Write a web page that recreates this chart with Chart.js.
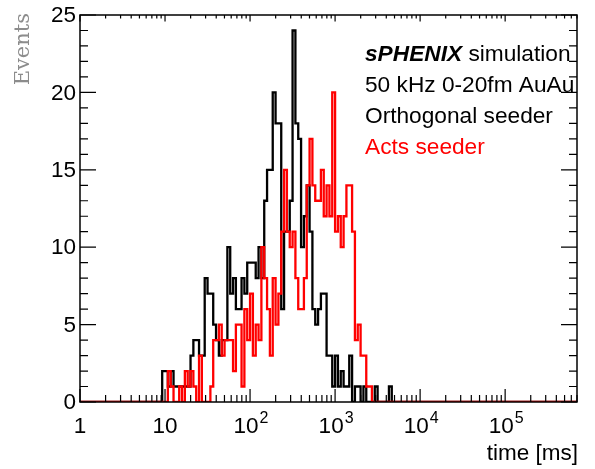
<!DOCTYPE html>
<html><head><meta charset="utf-8">
<script src="https://cdn.jsdelivr.net/npm/chart.js@4/dist/chart.umd.min.js"></script>
<style>html,body{margin:0;padding:0;background:#fff;}#wrap{width:595px;height:469px;}</style>
</head><body><div id="wrap"><canvas id="c" width="595" height="469"></canvas></div>
<script>
// Histogram binning: log-spaced bins, 30 per decade; first listed bin index
const binsPerDecade = 30;
const firstBin = 29;
// Orthogonal seeder (black) counts per bin, starting at bin index 29
const orthogonalCounts = [2,2,1,2,1,1,1,1,1,1,3,4,4,3,3,8,7,7,5,4,3,4,4,10,7,8,6,6,8,7,9,9,9,8,10,8,13,15,15,20,18,18,6,11,11,13,24,18,17,10,12,14,11,6,5,6,7,7,3,3,1,3,1,2,1,1,3,0,1,1,0,1,0,0,0,1,0,0,0,0,1,0];
// Acts seeder (red) counts per bin, starting at bin index 29
const actsCounts = [0,0,2,1,0,0,1,0,2,1,2,1,0,3,0,0,0,1,4,4,5,3,4,4,4,2,5,5,1,6,4,7,3,5,4,10,8,6,3,8,5,7,11,15,11,10,11,8,6,6,8,14,17,14,13,13,15,12,14,12,20,11,12,10,12,14,14,11,4,5,3,3,1,1,0,0,0,0,0,0,0,0];
const xRange = [1, 7e5];
const yRange = [0, 25];
const yTickLabels = ['0','5','10','15','20','25'];
const xTickDecades = [0,1,2,3,4,5];
const seriesNames = ['Orthogonal seeder', 'Acts seeder'];
const seriesColors = ['#000000', '#ff0000'];

function histPoints(counts) {
  const pts = [{x: xRange[0], y: 0}];
  counts.forEach((c, k) => pts.push({x: Math.pow(10, (firstBin + k) / binsPerDecade), y: c}));
  pts.push({x: Math.pow(10, (firstBin + counts.length) / binsPerDecade), y: 0});
  pts.push({x: xRange[1], y: 0});
  return pts;
}

const FONT = '"Liberation Sans", Arial, sans-serif';

const rootFrame = {
  id: 'rootFrame',
  afterDatasetsDraw(chart) {
    const ctx = chart.ctx, a = chart.chartArea;
    const xs = chart.scales.x, ys = chart.scales.y;
    ctx.save();
    ctx.strokeStyle = '#000';
    ctx.lineWidth = 1.5;
    ctx.strokeRect(a.left, a.top, a.right - a.left, a.bottom - a.top);
    ctx.lineWidth = 1.2;
    ctx.beginPath();
    for (let d = 0; d <= 6; d++) {
      for (let m = 1; m <= 9; m++) {
        const v = m * Math.pow(10, d);
        if (v < xRange[0] || v > xRange[1]) continue;
        const px = xs.getPixelForValue(v);
        const len = m === 1 ? 13 : 7;
        ctx.moveTo(px, a.bottom); ctx.lineTo(px, a.bottom - len);
        ctx.moveTo(px, a.top); ctx.lineTo(px, a.top + len * 0.5);
      }
    }
    for (let v = yRange[0]; v <= yRange[1]; v++) {
      const py = ys.getPixelForValue(v);
      const len = v % 5 === 0 ? 16 : 8;
      ctx.moveTo(a.left, py); ctx.lineTo(a.left + len, py);
      ctx.moveTo(a.right, py); ctx.lineTo(a.right - len, py);
    }
    ctx.stroke();

    ctx.fillStyle = '#000';
    ctx.font = '22.5px ' + FONT;
    ctx.textAlign = 'right';
    ctx.textBaseline = 'middle';
    yTickLabels.forEach(t => {
      ctx.fillText(t, a.left - 4, ys.getPixelForValue(Number(t)) + 1);
    });
    ctx.textBaseline = 'alphabetic';
    const baseY = a.bottom + 31;
    xTickDecades.forEach(d => {
      const px = xs.getPixelForValue(Math.pow(10, d));
      if (d <= 1) {
        ctx.font = '22.5px ' + FONT;
        ctx.textAlign = 'center';
        ctx.fillText(d === 0 ? '1' : '10', px, baseY);
      } else {
        ctx.font = '22.5px ' + FONT;
        const w1 = ctx.measureText('10').width;
        ctx.font = '16px ' + FONT;
        const w2 = ctx.measureText(String(d)).width;
        const x0 = px - (w1 + w2 + 1) / 2 + 1;
        ctx.textAlign = 'left';
        ctx.font = '22.5px ' + FONT;
        ctx.fillText('10', x0, baseY);
        ctx.font = '16px ' + FONT;
        ctx.fillText(String(d), x0 + w1 + 1, baseY - 10);
      }
    });
    ctx.font = '22.5px ' + FONT;
    ctx.textAlign = 'right';
    ctx.fillText('time [ms]', a.right + 1, 460);
    ctx.save();
    ctx.translate(29, 13);
    ctx.rotate(-Math.PI / 2);
    ctx.font = '21px "DejaVu Serif", serif';
    ctx.fillStyle = '#8c8c8c';
    ctx.textAlign = 'right';
    ctx.fillText('Events', 0, 0);
    ctx.restore();

    const lx = 365;
    ctx.textAlign = 'left';
    ctx.fillStyle = '#000';
    ctx.font = 'italic bold 22.7px ' + FONT;
    ctx.fillText('sPHENIX', lx, 61);
    const wb = ctx.measureText('sPHENIX').width;
    ctx.font = '22.7px ' + FONT;
    ctx.fillText(' simulation', lx + wb, 61);
    ctx.fillText('50 kHz 0-20fm AuAu', lx, 92);
    ctx.fillStyle = seriesColors[0];
    ctx.fillText(seriesNames[0], lx, 123);
    ctx.fillStyle = seriesColors[1];
    ctx.fillText(seriesNames[1], lx, 154);
    ctx.restore();
  }
};

new Chart(document.getElementById('c'), {
  type: 'line',
  data: {
    datasets: [
      {label: seriesNames[1], data: histPoints(actsCounts), borderColor: seriesColors[1], borderWidth: 2.3, stepped: true, pointRadius: 0, fill: false},
      {label: seriesNames[0], data: histPoints(orthogonalCounts), borderColor: seriesColors[0], borderWidth: 2.3, stepped: true, pointRadius: 0, fill: false}
    ]
  },
  options: {
    responsive: false,
    animation: false,
    devicePixelRatio: 1,
    layout: {padding: {left: 80, right: 18, top: 15, bottom: 67}},
    plugins: {legend: {display: false}, tooltip: {enabled: false}, title: {display: false}},
    scales: {
      x: {type: 'logarithmic', min: xRange[0], max: xRange[1], display: false},
      y: {type: 'linear', min: yRange[0], max: yRange[1], display: false}
    }
  },
  plugins: [rootFrame]
});
</script></body></html>
